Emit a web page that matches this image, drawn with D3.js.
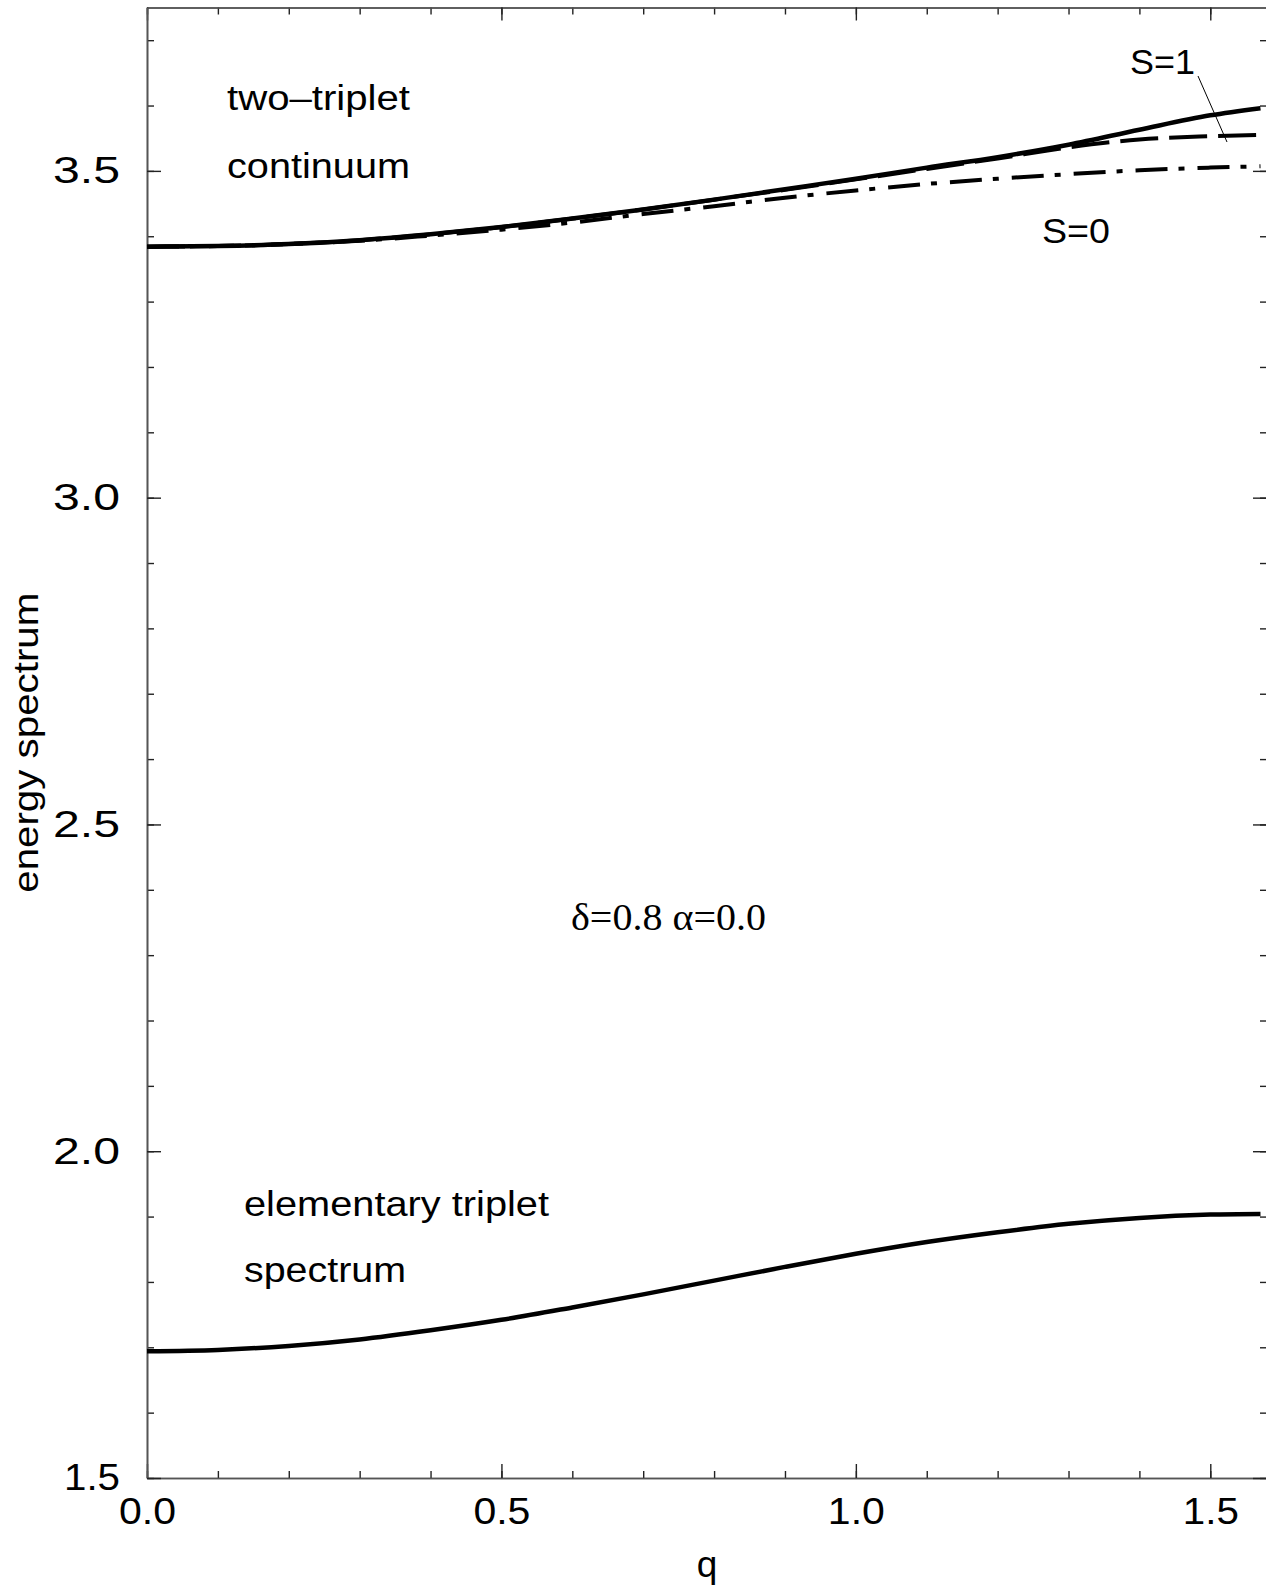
<!DOCTYPE html>
<html>
<head>
<meta charset="utf-8">
<script src="https://cdn.jsdelivr.net/npm/d3@7"></script>
<style>
  html, body { margin: 0; padding: 0; background: #fff; }
  svg { display: block; }
  text { fill: #000; }
</style>
</head>
<body>
<svg id="chart" width="1266" height="1591"></svg>
<script>
// Momentum grid (q from 0 to pi/2)
const qValues = [0, 0.1, 0.2, 0.3, 0.4, 0.5, 0.6, 0.7, 0.8, 0.9, 1.0, 1.1, 1.2, 1.3, 1.4, 1.5, 1.5708];

// Elementary triplet branch
const elementary = [1.694, 1.696, 1.702, 1.712, 1.726, 1.742, 1.761, 1.781, 1.802, 1.823, 1.843, 1.861, 1.876, 1.889, 1.898, 1.903, 1.904];

// Upper edge of the two-triplet continuum
const continuumEdge = [3.384, 3.385, 3.388, 3.394, 3.403, 3.414, 3.427, 3.441, 3.456, 3.472, 3.488, 3.505, 3.521, 3.540, 3.563, 3.585, 3.596];

// Two-triplet bound state, S=1 (dashed)
const boundS1 = [3.384, 3.385, 3.388, 3.394, 3.403, 3.414, 3.427, 3.441, 3.456, 3.471, 3.487, 3.503, 3.519, 3.536, 3.548, 3.553, 3.555];

// Two-triplet bound state, S=0 (dash-dot)
const boundS0 = [3.384, 3.385, 3.388, 3.393, 3.401, 3.410, 3.421, 3.434, 3.446, 3.459, 3.470, 3.480, 3.488, 3.495, 3.501, 3.505, 3.507];

const xMajorTicks = [0.0, 0.5, 1.0, 1.5];
const yMajorTicks = [1.5, 2.0, 2.5, 3.0, 3.5];
const xMinorTicks = d3.range(0, 16).map(i => i / 10);
const yMinorTicks = d3.range(15, 38).map(i => i / 10);

const sansFont = "\"Liberation Sans\", Arial, Helvetica, sans-serif";
const serifFont = "\"Liberation Serif\", \"Times New Roman\", serif";

const svg = d3.select("#chart");
const plotLeft = 147, plotRight = 1267, plotTop = 7.5, plotBottom = 1478;

const x = d3.scaleLinear().domain([0, 1.58]).range([plotLeft, plotRight]);
const y = d3.scaleLinear().domain([1.5, 3.75]).range([plotBottom, plotTop]);

const frameColor = "#555";
const tickColor = "#222";

function styleAxis(g) {
  g.attr("font-family", sansFont);
  g.select(".domain").attr("stroke", frameColor).attr("stroke-width", 1.6);
  g.selectAll(".tick line").attr("stroke", tickColor).attr("stroke-width", 1.4);
  g.selectAll(".tick text").attr("font-size", 37).attr("fill", "#000");
}

// Tick labels are set a little wide, as in the printed figure
function widenLabels(g, widths) {
  g.selectAll(".tick text")
    .attr("lengthAdjust", "spacingAndGlyphs")
    .attr("textLength", d => widths(d));
}

// Minor ticks (all four sides, pointing inward)
svg.append("g").attr("transform", `translate(0,${plotBottom})`)
  .call(d3.axisBottom(x).tickValues(xMinorTicks).tickSize(-7).tickSizeOuter(0).tickFormat(""))
  .call(styleAxis);
svg.append("g").attr("transform", `translate(0,${plotTop})`)
  .call(d3.axisTop(x).tickValues(xMinorTicks).tickSize(-7).tickSizeOuter(0).tickFormat(""))
  .call(styleAxis);
svg.append("g").attr("transform", `translate(${plotLeft},0)`)
  .call(d3.axisLeft(y).tickValues(yMinorTicks).tickSize(-7).tickSizeOuter(0).tickFormat(""))
  .call(styleAxis);
svg.append("g").attr("transform", `translate(${plotRight},0)`)
  .call(d3.axisRight(y).tickValues(yMinorTicks).tickSize(-7).tickSizeOuter(0).tickFormat(""))
  .call(styleAxis);

// Major ticks with labels
svg.append("g").attr("transform", `translate(0,${plotBottom})`)
  .call(d3.axisBottom(x).tickValues(xMajorTicks).tickSize(-14).tickSizeOuter(0).tickPadding(20).tickFormat(d3.format(".1f")))
  .call(styleAxis)
  .call(widenLabels, d => (d === 1.5 ? 56 : 57));
svg.append("g").attr("transform", `translate(0,${plotTop})`)
  .call(d3.axisTop(x).tickValues(xMajorTicks).tickSize(-13).tickSizeOuter(0).tickFormat(""))
  .call(styleAxis);
svg.append("g").attr("transform", `translate(${plotLeft},0)`)
  .call(d3.axisLeft(y).tickValues(yMajorTicks).tickSize(-14).tickSizeOuter(0).tickPadding(27).tickFormat(d3.format(".1f")))
  .call(styleAxis)
  .call(widenLabels, d => (d === 1.5 ? 56 : 67));
svg.append("g").attr("transform", `translate(${plotRight},0)`)
  .call(d3.axisRight(y).tickValues(yMajorTicks).tickSize(-14).tickSizeOuter(0).tickFormat(""))
  .call(styleAxis);

// Curves
const line = d3.line()
  .x((d, i) => x(qValues[i]))
  .y(d => y(d))
  .curve(d3.curveMonotoneX);

const curves = svg.append("g").attr("fill", "none").attr("stroke", "#000").attr("stroke-linecap", "butt");

curves.append("path").datum(boundS0)
  .attr("d", line).attr("stroke-width", 4).attr("stroke-dasharray", "32,11,6,13");
curves.append("path").datum(boundS1)
  .attr("d", line).attr("stroke-width", 4).attr("stroke-dasharray", "38,11");
curves.append("path").datum(continuumEdge)
  .attr("d", line).attr("stroke-width", 4.5);
curves.append("path").datum(elementary)
  .attr("d", line).attr("stroke-width", 4.5);

// Annotations
const notes = svg.append("g").attr("font-size", 35).attr("font-family", sansFont);
function note(txt, tx, ty, len) {
  notes.append("text").attr("x", tx).attr("y", ty)
    .attr("textLength", len).attr("lengthAdjust", "spacingAndGlyphs")
    .text(txt);
}
note("two\u2013triplet", 227, 110, 183);
note("continuum", 227, 178, 183);
note("elementary triplet", 244, 1216, 305);
note("spectrum", 244, 1282, 162);
note("S=1", 1130, 74, 65);
note("S=0", 1042, 243, 68);

// Leader from the S=1 label to its curve
svg.append("line")
  .attr("x1", 1198).attr("y1", 76)
  .attr("x2", 1227).attr("y2", 142)
  .attr("stroke", "#000").attr("stroke-width", 1);

// Parameter label
svg.append("text")
  .attr("x", 571).attr("y", 930)
  .attr("font-family", serifFont)
  .attr("font-size", 38)
  .attr("textLength", 195).attr("lengthAdjust", "spacingAndGlyphs")
  .text("\u03b4=0.8 \u03b1=0.0");

// Axis titles
svg.append("text")
  .attr("x", (plotLeft + plotRight) / 2).attr("y", 1577)
  .attr("text-anchor", "middle").attr("font-size", 37)
  .attr("font-family", sansFont)
  .text("q");

svg.append("text")
  .attr("transform", `translate(38,${(plotTop + plotBottom) / 2}) rotate(-90)`)
  .attr("text-anchor", "middle").attr("font-size", 35)
  .attr("font-family", sansFont)
  .attr("textLength", 300).attr("lengthAdjust", "spacingAndGlyphs")
  .text("energy spectrum");
</script>
</body>
</html>
